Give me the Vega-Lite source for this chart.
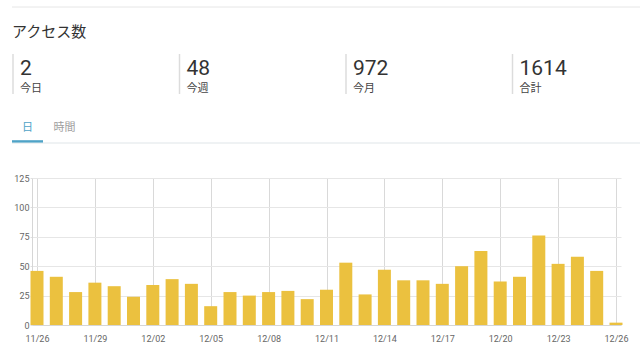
{
  "$schema": "https://vega.github.io/schema/vega-lite/v6.json",
  "padding": {"left": 11, "top": 6, "right": 0, "bottom": 0},
  "config": {
    "view": {"stroke": null},
    "font": "Roboto, 'Noto Sans CJK JP', sans-serif",
    "axis": {"labelFont": "Roboto"}
  },
  "datasets": {
    "stats": [
      {"label": "今日", "value": 2},
      {"label": "今週", "value": 48},
      {"label": "今月", "value": 972},
      {"label": "合計", "value": 1614}
    ],
    "tabs": [
      {"tab": "日", "selected": true},
      {"tab": "時間", "selected": false}
    ],
    "daily": [
      {"date": "2023-11-26", "count": 46},
      {"date": "2023-11-27", "count": 41},
      {"date": "2023-11-28", "count": 28},
      {"date": "2023-11-29", "count": 36},
      {"date": "2023-11-30", "count": 33},
      {"date": "2023-12-01", "count": 24},
      {"date": "2023-12-02", "count": 34},
      {"date": "2023-12-03", "count": 39},
      {"date": "2023-12-04", "count": 35},
      {"date": "2023-12-05", "count": 16},
      {"date": "2023-12-06", "count": 28},
      {"date": "2023-12-07", "count": 25},
      {"date": "2023-12-08", "count": 28},
      {"date": "2023-12-09", "count": 29},
      {"date": "2023-12-10", "count": 22},
      {"date": "2023-12-11", "count": 30},
      {"date": "2023-12-12", "count": 53},
      {"date": "2023-12-13", "count": 26},
      {"date": "2023-12-14", "count": 47},
      {"date": "2023-12-15", "count": 38},
      {"date": "2023-12-16", "count": 38},
      {"date": "2023-12-17", "count": 35},
      {"date": "2023-12-18", "count": 50},
      {"date": "2023-12-19", "count": 63},
      {"date": "2023-12-20", "count": 37},
      {"date": "2023-12-21", "count": 41},
      {"date": "2023-12-22", "count": 76},
      {"date": "2023-12-23", "count": 52},
      {"date": "2023-12-24", "count": 58},
      {"date": "2023-12-25", "count": 46},
      {"date": "2023-12-26", "count": 2}
    ]
  },
  "bounds": "flush",
  "spacing": 35,
  "vconcat": [
    {
      "width": 629,
      "height": 12,
      "data": {"values": [{}]},
      "mark": {"type": "rule", "color": "#e6e6e6", "strokeWidth": 1},
      "encoding": {
        "y": {"datum": 1, "type": "quantitative", "scale": {"domain": [0, 1]}, "axis": null}
      }
    },
    {
      "width": 500,
      "height": 40,
      "title": {
        "text": "アクセス数",
        "anchor": "start",
        "fontSize": 15,
        "fontWeight": "normal",
        "color": "#333333",
        "offset": 1,
        "baseline": "alphabetic",
        "font": "'Noto Sans CJK JP'"
      },
      "data": {"name": "stats"},
      "encoding": {
        "x": {"field": "label", "type": "nominal", "sort": null, "scale": {"type": "point", "padding": 0, "range": [1, 500.5]}, "axis": null}
      },
      "layer": [
        {"mark": {"type": "rule", "color": "#dcdcdc", "strokeWidth": 1.5}, "encoding": {}},
        {
          "mark": {"type": "text", "align": "left", "baseline": "alphabetic", "dx": 7, "dy": 1, "fontSize": 21, "color": "#333333", "font": "Roboto"},
          "encoding": {"text": {"field": "value", "type": "quantitative", "format": "d"}}
        },
        {
          "mark": {"type": "text", "align": "left", "baseline": "alphabetic", "dx": 7, "dy": 18, "fontSize": 11, "color": "#444444", "font": "'Noto Sans CJK JP'"},
          "encoding": {"text": {"field": "label", "type": "nominal"}}
        }
      ]
    },
    {
      "width": 629,
      "height": 14,
      "layer": [
        {
          "data": {"values": [{}]},
          "mark": {"type": "rule", "color": "#dfe5e8", "strokeWidth": 1},
          "encoding": {
            "y": {"datum": 0, "type": "quantitative", "scale": {"domain": [0, 1]}, "axis": null}
          }
        },
        {
          "data": {"name": "tabs"},
          "transform": [{"filter": "datum.selected"}],
          "mark": {"type": "bar", "color": "#4fa3c7"},
          "encoding": {
            "x": {"field": "tab", "type": "nominal", "sort": null, "scale": {"type": "band", "domain": ["日", "時間"], "range": [0, 68], "paddingInner": 0.162, "paddingOuter": 0}, "axis": null},
            "y": {"datum": 0.03, "type": "quantitative"},
            "y2": {"datum": 0.2}
          }
        },
        {
          "data": {"name": "tabs"},
          "mark": {"type": "text", "fontSize": 11, "baseline": "alphabetic", "dy": -5, "font": "'Noto Sans CJK JP'"},
          "encoding": {
            "x": {"field": "tab", "type": "nominal", "sort": null, "axis": null},
            "text": {"field": "tab", "type": "nominal"},
            "color": {"condition": {"test": "datum.selected", "value": "#4fa3c7"}, "value": "#9e9e9e"}
          }
        }
      ]
    },
    {
      "bounds": "flush",
      "spacing": 0,
      "hconcat": [
        {
          "width": 0,
          "height": 147,
          "data": {"values": []},
          "mark": {"type": "point", "opacity": 0},
          "encoding": {}
        },
        {
          "width": 589,
          "height": 147,
          "data": {"name": "daily"},
          "mark": {"type": "bar", "size": 13, "color": "#ebc13f"},
          "encoding": {
            "x": {
              "field": "date",
              "type": "temporal",
              "scale": {"type": "utc", "nice": false, "domain": [{"year": 2023, "month": 11, "date": 26, "utc": true}, {"year": 2023, "month": 12, "date": 26, "utc": true}]},
              "axis": {
                "values": [
                  {"year": 2023, "month": 11, "date": 26, "utc": true},
                  {"year": 2023, "month": 11, "date": 29, "utc": true},
                  {"year": 2023, "month": 12, "date": 2, "utc": true},
                  {"year": 2023, "month": 12, "date": 5, "utc": true},
                  {"year": 2023, "month": 12, "date": 8, "utc": true},
                  {"year": 2023, "month": 12, "date": 11, "utc": true},
                  {"year": 2023, "month": 12, "date": 14, "utc": true},
                  {"year": 2023, "month": 12, "date": 17, "utc": true},
                  {"year": 2023, "month": 12, "date": 20, "utc": true},
                  {"year": 2023, "month": 12, "date": 23, "utc": true},
                  {"year": 2023, "month": 12, "date": 26, "utc": true}
                ],
                "format": "%m/%d",
                "title": null,
                "grid": true,
                "gridColor": "#d9d9d9",
                "ticks": false,
                "labelPadding": 9,
                "labelFontSize": 9,
                "labelColor": "#666666",
                "domainColor": "#d6d6d6",
                "labelFlush": false,
                "labelOverlap": false
              }
            },
            "y": {
              "field": "count",
              "type": "quantitative",
              "scale": {"domain": [0, 125], "nice": false},
              "axis": {
                "values": [0, 25, 50, 75, 100, 125],
                "title": null,
                "grid": true,
                "gridColor": "#e6e6e6",
                "tickColor": "#e0e0e0",
                "tickSize": 2,
                "labelPadding": 1,
                "labelFontSize": 9,
                "labelColor": "#666666",
                "domainColor": "#d6d6d6"
              }
            }
          }
        }
      ]
    }
  ]
}
